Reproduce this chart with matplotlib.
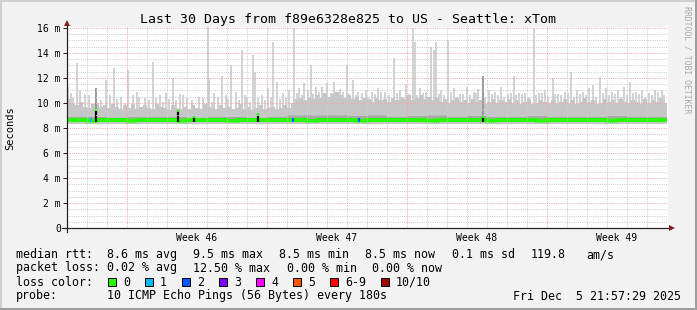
import numpy as np
import matplotlib.pyplot as plt
from matplotlib.patches import Rectangle

W, H = 697, 310

# ---- data: x in days since window start, y in ms ----
bin_days = 0.2
smoke_hi = [
    10.3, 9.9, 9.8, 10.1, 9.7, 9.6, 9.9, 10.0, 9.7, 9.8,
    9.6, 9.9, 9.7, 9.5, 9.8, 9.6, 9.9, 9.5, 9.7, 9.8,
    9.6, 9.5, 9.9, 9.7, 9.6, 9.4, 9.8, 9.6, 9.5, 9.7,
    9.5, 9.8, 9.6, 9.5, 9.9, 9.7, 9.6, 9.5, 9.8, 9.6,
    9.7, 9.5, 9.6, 9.9, 9.5, 9.7, 9.4, 9.6, 9.8, 9.5,
    9.6, 9.7, 9.5, 9.6, 9.8, 9.6, 10.0, 10.3, 10.4, 10.2,
    10.5, 10.3, 10.6, 10.4, 10.8, 10.5, 10.7, 10.9, 10.6, 10.4,
    10.6, 10.3, 10.5, 10.2, 10.4, 10.3, 10.1, 10.4, 10.2, 10.3,
    10.1, 10.4, 10.2, 10.5, 10.3, 10.6, 10.2, 10.4, 10.6, 10.3,
    10.5, 10.2, 10.4, 10.1, 10.3, 10.0, 10.2, 10.4, 10.1, 10.2,
    10.0, 10.3, 10.1, 10.2, 9.9, 10.1, 10.3, 10.0, 10.2, 10.1,
    10.3, 10.0, 10.2, 9.9, 10.1, 10.3, 9.9, 10.0, 10.2, 10.1,
    10.0, 10.2, 9.9, 10.1, 10.3, 10.0, 10.2, 9.9, 10.1, 10.4,
    10.1, 10.2, 9.9, 10.0, 10.3, 10.1, 10.2, 10.0, 10.3, 10.1,
    10.0, 10.2, 10.1, 9.9, 10.3, 10.0, 10.2, 10.1, 10.4, 10.0,
]
smoke_floor = 8.35
inner_hi = [8.9, 8.85, 8.8, 8.9, 8.85, 8.9, 8.8, 8.85, 8.9, 8.8,
            8.85, 9.0, 9.05, 9.0, 8.95, 9.0, 8.9, 8.95, 9.0, 8.9,
            8.95, 8.9, 8.85, 8.95, 8.9, 8.9, 8.85, 8.95, 8.9, 8.9]
median_ms = [8.6, 8.62, 8.58, 8.6, 8.61, 8.6, 8.59, 8.6, 8.62, 8.6,
             8.6, 8.58, 8.6, 8.61, 8.6, 8.6, 8.59, 8.6, 8.6, 8.61,
             8.6, 8.62, 8.6, 8.6, 8.59, 8.6, 8.61, 8.6, 8.6, 8.58,
             8.6, 8.61, 8.6, 8.6, 8.62, 8.6, 8.59, 8.6, 8.6, 8.61,
             8.6, 8.6, 8.58, 8.6, 8.61, 8.6, 8.6, 8.59, 8.6, 8.62,
             8.6, 8.6, 8.61, 8.6, 8.59, 8.6, 8.6, 8.61, 8.6, 8.6]
spike_day = [0.05, 0.2, 0.48, 0.65, 0.9, 1.45, 1.95, 2.15, 2.35, 2.7,
             3.05, 3.3, 3.48, 3.9, 4.28, 4.65, 4.95, 5.28, 5.45, 5.65,
             6.0, 6.6, 7.06, 7.12, 7.35, 7.73, 7.95, 8.2, 8.45, 8.73,
             9.0, 9.32, 9.4, 9.75, 10.05, 10.32, 10.48, 10.8, 11.1, 11.37,
             11.6, 11.85, 12.18, 12.45, 12.75, 13.0, 13.37, 13.65, 13.98, 14.3,
             14.55, 14.95, 15.25, 15.55, 15.9, 16.33, 16.65, 16.95, 17.32, 17.38,
             17.65, 17.95, 18.2, 18.33, 18.45, 18.7, 19.05, 19.35, 19.65, 20.0,
             20.35, 20.55, 20.78, 21.1, 21.4, 21.7, 22.05, 22.33, 22.6, 22.9,
             23.33, 23.6, 23.9, 24.28, 24.55, 24.9, 25.22, 25.5, 25.8, 26.1,
             26.28, 26.65, 26.95, 27.25, 27.55, 27.85, 28.15, 28.45, 28.75, 29.1,
             29.4, 29.73]
spike_ms = [11.3, 10.8, 13.2, 11.0, 10.7, 11.2, 11.8, 10.6, 12.8, 10.5,
            12.6, 10.6, 10.9, 10.4, 13.3, 10.6, 10.8, 12.0, 10.2, 10.7,
            10.4, 10.5, 16.1, 12.0, 10.8, 12.2, 10.6, 13.0, 10.9, 14.2,
            10.5, 13.8, 12.5, 10.6, 11.2, 14.9, 11.7, 10.8, 11.0, 16.0,
            11.2, 11.6, 13.0, 11.3, 11.3, 11.6, 11.7, 11.1, 13.0, 11.8,
            10.9, 11.0, 10.9, 11.2, 10.9, 13.6, 11.0, 11.5, 16.0, 14.9,
            11.2, 10.9, 14.5, 14.2, 14.9, 11.0, 15.0, 11.2, 10.7, 11.3,
            10.9, 11.1, 12.2, 11.0, 10.9, 11.3, 10.7, 12.2, 10.8, 10.8,
            16.0, 10.8, 11.0, 12.0, 10.7, 10.9, 12.5, 11.0, 10.9, 11.2,
            11.4, 12.1, 11.2, 10.9, 11.0, 11.3, 11.7, 10.9, 11.0, 10.8,
            11.0, 11.0]
small_day = [0.3, 0.75, 1.1, 1.7, 2.5, 2.9, 3.6, 4.1, 4.45, 4.8,
             5.1, 5.8, 6.25, 6.8, 7.25, 7.55, 8.05, 8.6, 8.9, 9.15,
             9.55, 9.9, 10.2, 10.65, 10.95, 11.5, 11.75, 12.05, 12.3, 12.6,
             12.9, 13.2, 13.5, 13.8, 14.1, 14.45, 14.75, 15.05, 15.4, 15.7,
             16.1, 16.5, 16.8, 17.1, 17.5, 17.8, 18.05, 18.6, 18.85, 19.2,
             19.5, 19.8, 20.15, 20.45, 20.9, 21.25, 21.55, 21.85, 22.2, 22.45,
             22.75, 23.1, 23.45, 23.75, 24.05, 24.4, 24.7, 25.05, 25.35, 25.65,
             25.95, 26.45, 26.8, 27.1, 27.4, 27.7, 28.0, 28.3, 28.6, 28.9,
             29.25, 29.55, 29.85]
small_ms = [10.4, 10.1, 10.6, 10.2, 10.3, 10.0, 10.5, 10.2, 10.4, 10.1,
            10.3, 10.6, 10.2, 10.4, 10.1, 10.5, 10.3, 10.2, 10.6, 10.1,
            10.4, 10.2, 10.5, 10.3, 10.4, 10.8, 10.6, 11.0, 10.7, 10.9,
            10.6, 10.8, 10.5, 10.9, 10.7, 10.6, 10.8, 10.5, 10.7, 10.9,
            10.6, 10.8, 10.5, 10.7, 10.6, 10.8, 10.5, 10.7, 10.6, 10.9,
            10.5, 10.7, 10.6, 10.8, 10.5, 10.7, 10.6, 10.5, 10.8, 10.6,
            10.7, 10.5, 10.6, 10.8, 10.5, 10.7, 10.6, 10.8, 10.5, 10.7,
            10.6, 10.5, 10.8, 10.6, 10.7, 10.5, 10.6, 10.8, 10.7, 10.5,
            10.6, 10.9, 10.6]
dark_day = [1.43, 5.53, 6.35, 9.53, 20.78]
dark_top = [9.5, 9.4, 8.9, 9.1, 8.9]
loss_day = [1.2, 11.3, 14.6]
loss_cnt = [1, 2, 2]

week_lines = [3, 10, 17, 24]
week_labels = ['Week 46', 'Week 47', 'Week 48', 'Week 49']
loss_names = ['0', '1', '2', '3', '4', '5', '6-9', '10/10']
loss_colors = ['#26ff00', '#00b8ff', '#0059ff', '#7e00ff',
               '#ff00ff', '#ff5500', '#ff0000', '#a10000']

title = 'Last 30 Days from f89e6328e825 to US - Seattle: xTom'
row_rtt = [('median rtt:', 16), ('8.6 ms avg', 107), ('9.5 ms max', 193),
           ('8.5 ms min', 279), ('8.5 ms now', 365), ('0.1 ms sd', 452),
           ('119.8', 531), ('am/s', 586)]
row_loss = [('packet loss:', 16), ('0.02 % avg', 107), ('12.50 % max', 193),
            ('0.00 % min', 287), ('0.00 % now', 372)]
row_probe = [('probe:', 16), ('10 ICMP Echo Pings (56 Bytes) every 180s', 107),
             ('Fri Dec  5 21:57:29 2025', 513)]

# ---- rrdtool look ----
BACK = '#f2f2f2'
SHADEA, SHADEB = '#cfcfcf', '#9e9e9e'
GRID, MGRID = '#cdcdcd', '#efaaaa'
AXIS, ARROW = '#1f1f1f', '#801f1f'
SMOKE, SMOKE_DK = '#c6c6c6', '#a8a8a8'
MONO = 'DejaVu Sans Mono'
PX = 72 / 100  # one pixel in points


def fx(px):
    return px / W


def fy(py):
    return 1 - py / H


fig = plt.figure(figsize=(W / 100, H / 100), dpi=100, facecolor=BACK)
ax = fig.add_axes([fx(67), fy(228), 601 / W, 201 / H], facecolor='white')
ax.set_xlim(0, 30.05)
ax.set_ylim(0, 16.08)
for s in ax.spines.values():
    s.set_visible(False)

# smoke
edges = np.arange(len(smoke_hi) + 1) * bin_days
ax.stairs(smoke_hi, edges, baseline=smoke_floor, fill=True, color=SMOKE, lw=0, zorder=2)
ax.vlines(small_day, smoke_floor, small_ms, color=SMOKE, lw=1.1, zorder=2)
ax.vlines(spike_day, smoke_floor, spike_ms, color=SMOKE, lw=1.1, zorder=2)
ax.stairs(inner_hi, np.arange(len(inner_hi) + 1), baseline=8.5, fill=True,
          color=SMOKE_DK, lw=0, zorder=2)
ax.vlines([1.45, 20.78], 8.6, [11.2, 12.2], color='#8c8c8c', lw=1.1, zorder=2)

# median and loss colouring
med_edges = np.arange(len(median_ms) + 1) * 0.5
ax.stairs(median_ms, med_edges, baseline=None, color=loss_colors[0], lw=3, zorder=3)
ax.vlines(dark_day, 8.5, dark_top, color='black', lw=1.6, zorder=3)
ax.vlines(dark_day, np.array(dark_top) - 0.12, np.array(dark_top) + 0.06,
          color=loss_colors[0], lw=1.6, zorder=3)
ax.vlines(loss_day, 8.45, 8.8, color=[loss_colors[c] for c in loss_cnt], lw=1.6, zorder=3)

# dotted grid on top of data
for v in np.arange(0.5, 16.01, 0.5):
    major = abs(v / 2 - round(v / 2)) < 1e-6
    ax.axhline(v, color=MGRID if major else GRID, lw=PX, ls=(0, (1, 1.2)), zorder=4)
for d in range(1, 30):
    ax.axvline(d, color=MGRID if d in week_lines else GRID, lw=PX, ls=(0, (1, 1.2)),
               zorder=4)

# axes with arrows
ax.plot([0, 0], [-0.32, 16.16], color=AXIS, lw=PX * 1.2, clip_on=False, zorder=5)
ax.plot([-0.25, 30.15], [0, 0], color=AXIS, lw=PX * 1.2, clip_on=False, zorder=5)
ax.plot([0], [16.36], marker='^', ms=4.5, color=ARROW, mew=0, clip_on=False, zorder=6)
ax.plot([30.25], [0], marker='>', ms=4.5, color=ARROW, mew=0, clip_on=False, zorder=6)

ax.set_yticks(np.arange(0, 17, 2))
ax.set_yticklabels(['0'] + [f'{v} m' for v in range(2, 17, 2)], family=MONO, fontsize=7)
ax.set_xticks([w + 3.5 for w in week_lines])
ax.set_xticklabels(week_labels, family=MONO, fontsize=7)
ax.tick_params(axis='y', length=3, width=PX, color=AXIS, pad=1.5)
ax.tick_params(axis='x', length=0, pad=3.5)

# texts
fig.text(fx(348), fy(19), title, family=MONO, fontsize=9.5, ha='center', va='center')
fig.text(fx(10), fy(128), 'Seconds', family=MONO, fontsize=7.5, rotation=90,
         ha='center', va='center')
fig.text(fx(687), fy(60), 'RRDTOOL / TOBI OETIKER', family=MONO, fontsize=5.9,
         rotation=270, ha='center', va='center', color='#a8a8a8')

for row, ypx in ((row_rtt, 254.5), (row_loss, 268), (row_probe, 296)):
    for txt, xpx in row:
        fig.text(fx(xpx), fy(ypx), txt, family=MONO, fontsize=8.4, va='center')

fig.text(fx(16), fy(282), 'loss color:', family=MONO, fontsize=8.4, va='center')
xpx = 108
for name, col in zip(loss_names, loss_colors):
    fig.add_artist(Rectangle((fx(xpx), fy(286)), 8 / W, 8 / H, transform=fig.transFigure,
                             facecolor=col, edgecolor='black', lw=PX))
    fig.text(fx(xpx + 15), fy(282), name, family=MONO, fontsize=8.4, va='center')
    xpx += 15 + 7 * len(name) + 15

# 3D frame
for (x0, y0, w, h), c in (((0, 1 - 2 / H, 1, 2 / H), SHADEA), ((0, 0, 2 / W, 1), SHADEA),
                          ((0, 0, 1, 2 / H), SHADEB), ((1 - 2 / W, 0, 2 / W, 1), SHADEB)):
    fig.add_artist(Rectangle((x0, y0), w, h, transform=fig.transFigure, facecolor=c, lw=0))

fig.savefig('out.png', dpi=100, facecolor=BACK)
